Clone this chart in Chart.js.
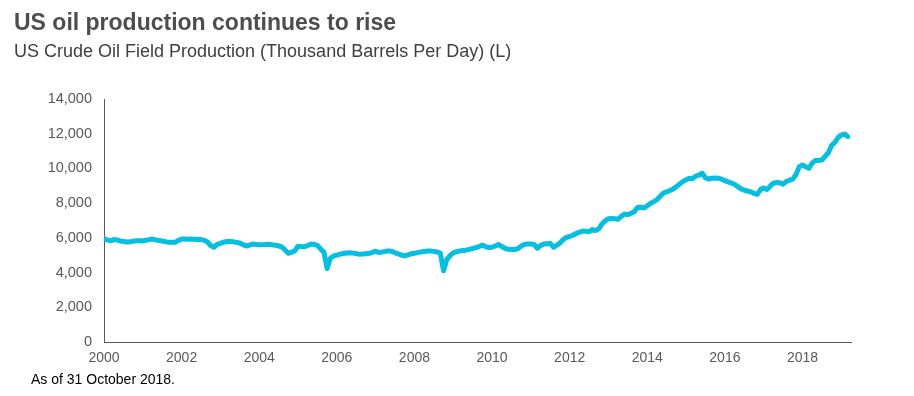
<!DOCTYPE html>
<html lang="en">
<head>
    <meta charset="UTF-8">
    <title>US oil production continues to rise</title>
    <script src="https://cdn.jsdelivr.net/npm/chart.js"></script>
    <style>
        body {
            margin: 0;
            width: 914px;
            height: 396px;
            background: #ffffff;
            font-family: "Liberation Sans", Arial, sans-serif;
            position: relative;
            overflow: hidden;
        }

        .title {
            position: absolute;
            left: 14px;
            top: 11px;
            font-size: 23px;
            line-height: 23px;
            font-weight: bold;
            color: #4d4d4d;
        }

        .subtitle {
            position: absolute;
            left: 14px;
            top: 42px;
            font-size: 18px;
            line-height: 18px;
            color: #404040;
        }

        .note {
            position: absolute;
            left: 31px;
            top: 372px;
            font-size: 14px;
            line-height: 14px;
            color: #000000;
        }

        .chart-box {
            position: absolute;
            left: 0;
            top: 0;
            width: 914px;
            height: 396px;
        }
    </style>
</head>
<body>
    <div class="chart-box">
        <canvas id="myChart"></canvas>
    </div>
    <div class="title">US oil production continues to rise</div>
    <div class="subtitle">US Crude Oil Field Production (Thousand Barrels Per Day) (L)</div>
    <div class="note">As of 31 October 2018.</div>

    <script>
        // monthly series, starting January 2000
        const startYear = 2000;
        const production = [
            // 2000
            5970, 5880, 5830, 5900, 5880, 5820, 5790, 5760, 5770, 5810, 5830, 5830,
            // 2001
            5820, 5860, 5900, 5930, 5880, 5850, 5820, 5780, 5740, 5740, 5740, 5860,
            // 2002
            5930, 5930, 5920, 5930, 5920, 5910, 5900, 5860, 5760, 5560, 5450, 5620,
            // 2003
            5680, 5750, 5790, 5790, 5770, 5740, 5700, 5610, 5530, 5580, 5640, 5620,
            // 2004
            5600, 5610, 5620, 5630, 5600, 5580, 5530, 5480, 5300, 5110, 5180, 5260,
            // 2005
            5520, 5500, 5490, 5560, 5640, 5620, 5570, 5350, 5180, 4230, 4820, 4960,
            // 2006
            5010, 5060, 5100, 5130, 5140, 5120, 5090, 5060, 5070, 5090, 5110, 5170,
            // 2007
            5230, 5150, 5190, 5220, 5250, 5220, 5140, 5080, 5010, 4960, 5020, 5080,
            // 2008
            5110, 5150, 5190, 5220, 5240, 5250, 5220, 5190, 5120, 4100, 4750, 4980,
            // 2009
            5140, 5200, 5250, 5270, 5290, 5340, 5390, 5430, 5500, 5580, 5500, 5440,
            // 2010
            5460, 5530, 5620, 5500, 5400, 5340, 5330, 5330, 5380, 5520, 5630, 5640,
            // 2011
            5640, 5620, 5400, 5560, 5640, 5660, 5680, 5460, 5570, 5710, 5900, 6030,
            // 2012
            6080, 6150, 6250, 6330, 6390, 6380, 6350, 6480, 6420, 6520, 6800, 6990,
            // 2013
            7100, 7120, 7100, 7070, 7250, 7370, 7330, 7420, 7510, 7750, 7760, 7720,
            // 2014
            7850, 7990, 8080, 8200, 8400, 8580, 8650, 8730, 8820, 8950, 9100, 9240,
            // 2015
            9350, 9440, 9420, 9560, 9620, 9720, 9450, 9390, 9440, 9450, 9440, 9380,
            // 2016
            9300, 9220, 9160, 9090, 8950, 8820, 8740, 8700, 8650, 8560, 8500, 8780,
            // 2017
            8870, 8790, 8980, 9150, 9190, 9170, 9090, 9250, 9320, 9380, 9650, 10100,
            // 2018
            10200, 10100, 10020, 10300, 10460, 10460, 10480, 10700, 10900, 11320, 11500, 11780,
            // 2019
            11920, 11980, 11830
        ];
        const yearTicks = [2000, 2002, 2004, 2006, 2008, 2010, 2012, 2014, 2016, 2018];
        const valueTicks = [0, 2000, 4000, 6000, 8000, 10000, 12000, 14000];

        const axisGrey = '#595959';
        const points = production.map((v, i) => ({ x: startYear + i / 12, y: v }));

        const ctx = document.getElementById('myChart').getContext('2d');
        const myChart = new Chart(ctx, {
            type: 'line',
            data: {
                datasets: [{
                    label: 'US Crude Oil Field Production',
                    data: points,
                    borderColor: '#05bfe0',
                    borderWidth: 5,
                    pointRadius: 0,
                    tension: 0,
                    fill: false,
                    borderJoinStyle: 'round',
                    borderCapStyle: 'round'
                }]
            },
            options: {
                responsive: true,
                maintainAspectRatio: false,
                animation: false,
                layout: {
                    padding: { top: 99, right: 63, bottom: 24, left: 0 }
                },
                plugins: {
                    legend: { display: false },
                    tooltip: { enabled: false }
                },
                scales: {
                    x: {
                        type: 'linear',
                        min: 2000,
                        max: 2019.25,
                        grid: { display: false, drawTicks: false },
                        border: { display: true, color: axisGrey, width: 1 },
                        afterBuildTicks: (scale) => {
                            scale.ticks = yearTicks.map(v => ({ value: v }));
                        },
                        afterFit: (scale) => { scale.height = 30; },
                        ticks: {
                            autoSkip: false,
                            maxRotation: 0,
                            padding: 8,
                            color: axisGrey,
                            font: { family: '"Liberation Sans", Arial', size: 14 },
                            callback: (v) => String(v)
                        }
                    },
                    y: {
                        min: 0,
                        max: 14000,
                        grid: { display: false, drawTicks: false },
                        border: { display: true, color: axisGrey, width: 1 },
                        afterBuildTicks: (scale) => {
                            scale.ticks = valueTicks.map(v => ({ value: v }));
                        },
                        afterFit: (scale) => { scale.width = 104; },
                        ticks: {
                            padding: 12,
                            color: axisGrey,
                            font: { family: '"Liberation Sans", Arial', size: 14.5 },
                            callback: (v) => v.toLocaleString('en-US')
                        }
                    }
                }
            }
        });
    </script>
</body>
</html>
